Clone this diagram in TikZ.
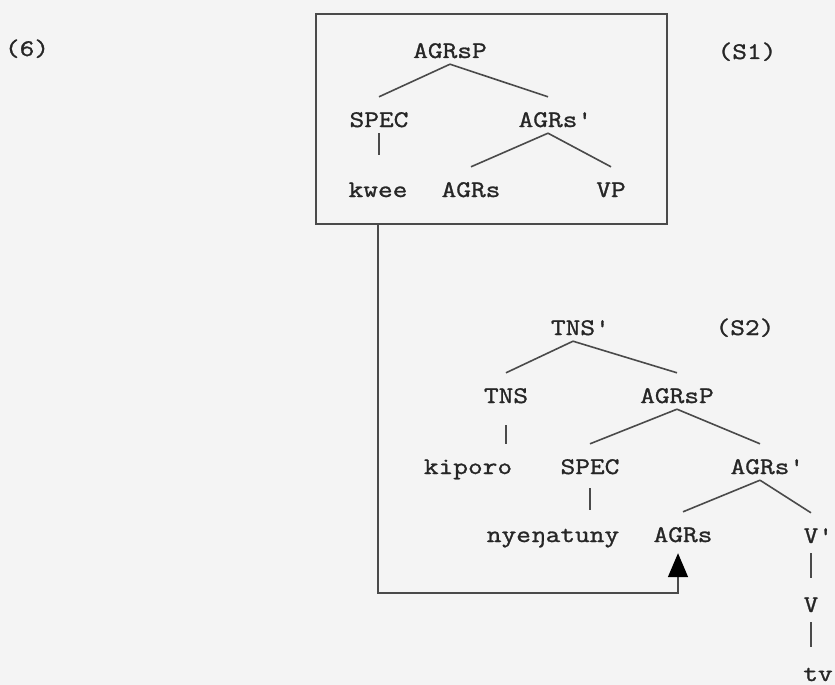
\documentclass[tikz,border=0pt]{standalone}
\usepackage{fontspec}
\setmonofont{Latin Modern Mono}[FakeStretch=1.2,FakeBold=1.2]
\usetikzlibrary{arrows.meta}
\definecolor{paper}{HTML}{F4F4F4}
\definecolor{ink}{HTML}{262626}
\definecolor{rule}{HTML}{4A4A4A}
\tikzset{
  cat/.style={anchor=base,inner sep=0pt,text height=30pt,text depth=6pt,text=ink},
  branch/.style={draw=rule,line width=1.6pt},
  stem/.style={branch,shorten <=4pt,shorten >=4pt},
  raising/.style={draw=rule,line width=1.6pt,-{Triangle[width=20pt,length=24pt,color=black]}},
}
\begin{document}
\begin{tikzpicture}[x=1pt,y=-1pt,font=\ttfamily\fontsize{23.8}{28}\selectfont]
  \fill[paper] (0,0) rectangle (835,685);
  \useasboundingbox (0,0) rectangle (835,685);
  \node[cat] (exnum) at (27,56) {(6)};
  % S1 in its box
  \node[draw=rule,line width=1.6pt,minimum width=351pt,minimum height=210pt,inner sep=0pt] (cyclebox) at (491.5,119) {};
  \node[cat] (sone) at (747,59) {(S1)};
  \node[cat] (agrsp1) at (450,58) {AGRsP};
  \node[cat] (spec1) at (379,127) {SPEC};
  \node[cat] (agrsbar1) at (548,127) {AGRs\rlap{'}};
  \node[cat] (kwee) at (378,197) {kwee};
  \node[cat] (agrs1) at (471,197) {AGRs};
  \node[cat] (vp) at (611,197) {VP};
  \draw[branch] (agrsp1.south) -- (spec1.north);
  \draw[branch] (agrsp1.south) -- (agrsbar1.north);
  \draw[stem,shorten <=0pt,shorten >=12pt] (spec1.south) -- (spec1.south |- kwee.north);
  \draw[branch] (agrsbar1.south) -- (agrs1.north);
  \draw[branch] (agrsbar1.south) -- (vp.north);
  % S2
  \node[cat] (stwo) at (745,335) {(S2)};
  \node[cat] (tnsbar) at (573,335) {TNS\rlap{'}};
  \node[cat] (tns) at (506,403) {TNS};
  \node[cat] (agrsp2) at (677,403) {AGRsP};
  \node[cat] (kiporo) at (468,474) {kiporo};
  \node[cat] (spec2) at (590,474) {SPEC};
  \node[cat] (agrsbar2) at (760,474) {AGRs\rlap{'}};
  \node[cat] (subj) at (553,542) {nyeŋatuny};
  \node[cat] (agrs2) at (683,542) {AGRs};
  \node[cat] (vbar) at (811,543) {V\rlap{'}};
  \node[cat] (verb) at (811,612) {V};
  \node[cat,text depth=0pt] (trace) at (818,681) {tv};
  \draw[branch] (tnsbar.south) -- (tns.north);
  \draw[branch] (tnsbar.south) -- (agrsp2.north);
  \draw[stem,shorten <=16pt,shorten >=0pt] (tns.south) -- (tns.south |- kiporo.north);
  \draw[branch] (agrsp2.south) -- (spec2.north);
  \draw[branch] (agrsp2.south) -- (agrsbar2.north);
  \draw[stem,shorten <=8pt,shorten >=2pt] (spec2.south) -- (spec2.south |- subj.north);
  \draw[branch] (agrsbar2.south) -- (agrs2.north);
  \draw[branch] (agrsbar2.south) -- (vbar.north);
  \draw[stem] (vbar.south) -- (verb.north);
  \draw[stem] (verb.south) -- (verb.south |- trace.north);
  % movement of S1 into AGRs
  \coordinate (bend) at (678,593);
  \draw[raising,shorten >=5pt] (cyclebox.south -| kwee) |- (bend) -- (bend |- agrs2.south);
\end{tikzpicture}
\end{document}
